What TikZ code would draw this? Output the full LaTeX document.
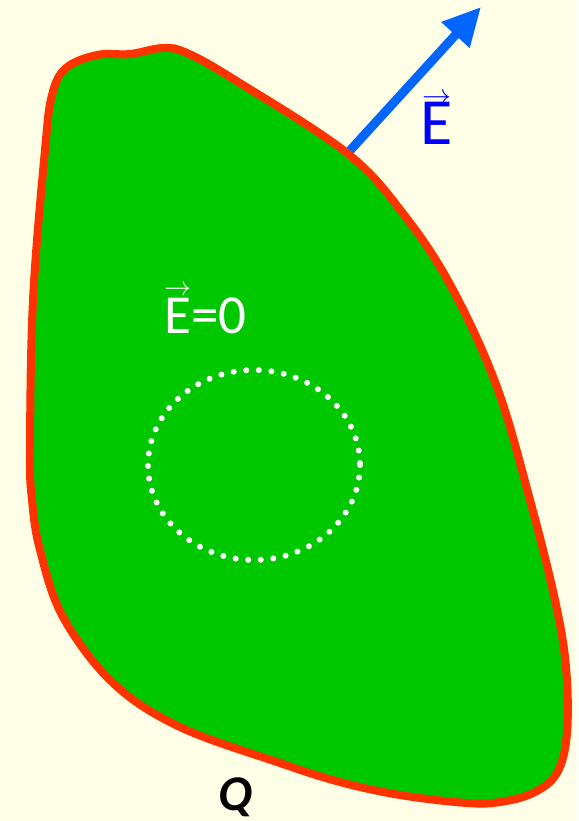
\documentclass[tikz,border=0pt]{standalone}
\usepackage{fontspec}
\usepackage{graphicx}
\setmainfont{Carlito}
\usetikzlibrary{arrows.meta}
\definecolor{bg}{HTML}{FFFFE8}
\definecolor{blobgreen}{HTML}{00C800}
\definecolor{blobred}{HTML}{FF3300}
\definecolor{arrowblue}{HTML}{0066FF}
\definecolor{labelblue}{HTML}{0000FF}
% E with an arrow over it: #1 arrow width, #2 raise of the arrow
\newcommand\vecE[2]{\leavevmode\hbox{\ooalign{E\cr\hidewidth\raisebox{#2}[0pt][0pt]{\resizebox{#1}{!}{$\rightarrow$}}\hidewidth\cr}}}
\tikzset{
  fieldarrow/.style={line width=9pt, arrowblue, -{Triangle[length=38pt,width=36pt]}},
  conductor/.style={fill=blobgreen, draw=blobred, line width=8pt, line join=round},
  gaussdots/.style={white, line width=6pt, line cap=round, dash pattern=on 0pt off 12.6pt},
}
\begin{document}
\begin{tikzpicture}[x=1pt,y=-1pt]
\fill[bg] (0,0) rectangle (578,821);
\useasboundingbox (0,0) rectangle (578,821);
\coordinate (s) at (345,156);
\coordinate (t) at (481,7);
\draw[fieldarrow] (s) -- (t);
\filldraw[conductor] plot[smooth cycle, tension=0.6] coordinates {
(45,150) (52,95) (66,68) (97,55) (130,54) (163,48) (187,53) (235,80)
(347,153) (405,216) (452,288) (497,387) (530,500) (555,600) (566,667) (567,733)
(557,773) (533,793) (500,802) (467,803) (400,795) (340,782) (280,763) (180,727)
(113,683) (63,617) (40,550) (32,500) (30,450) (33,300)};
\draw[gaussdots] (254,465) ellipse [x radius=106, y radius=95];
\node[text=labelblue, font=\fontsize{66}{72}\selectfont, anchor=base, inner sep=0pt] (Eout) at (437,145) {\vecE{29pt}{40pt}};
\node[text=white, font=\fontsize{55}{60}\selectfont, anchor=base west, inner sep=0pt] (Ein) at (164,333) {\vecE{27pt}{38pt}=0};
\node[text=black, font=\fontsize{50}{56}\selectfont\bfseries\itshape, anchor=base, inner sep=0pt] (Q) at (235,810) {Q};
\end{tikzpicture}
\end{document}
